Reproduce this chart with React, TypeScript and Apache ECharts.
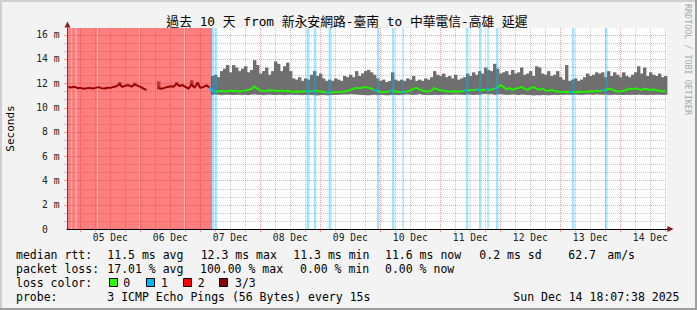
import { useEffect, useRef } from "react";
import * as echarts from "echarts";

// time axis: hours since 2025-12-04 00:00
const START_H = 18.68;
const SPAN_H = 240;
const SAMPLE_H = 1.2;
const Y_MAX = 16.55;

const xLabelHours = [36, 60, 84, 108, 132, 156, 180, 204, 228, 252];
const xTickLabels = ["05 Dec", "06 Dec", "07 Dec", "08 Dec", "09 Dec", "10 Dec", "11 Dec", "12 Dec", "13 Dec", "14 Dec"];
const yLabelValues = [0, 2, 4, 6, 8, 10, 12, 14, 16];
const yTickLabels = ["0\u00a0\u00a0", "2 m", "4 m", "6 m", "8 m", "10 m", "12 m", "14 m", "16 m"];

// median rtt (ms), one value per 1.2 h sample
const medianRed = [
  11.70, 11.65, 11.72, 11.60, 11.62, 11.55, 11.58, 11.62, 11.57, 11.62,
  11.68, 11.60, 11.57, 11.63, 11.62, 11.70, 11.75, 11.92, 11.70, 11.80,
  11.85, 11.72, 11.90, 11.80, 11.70, 11.55, 11.45, null, null, null,
  11.60, 11.55, 11.62, 11.70, 11.75, 11.72, 11.95, 11.78, 11.85, 11.70,
  11.55, 11.90, 11.65, 12.00, 11.62, 11.70, 11.82, 11.65,
];
const medianGrey = [
  11.35, 11.33, 11.35, 11.38, 11.33, 11.36, 11.40, 11.35, 11.38, 11.33,
  11.36, 11.40, 11.45, 11.55, 11.75, 11.55, 11.40, 11.36, 11.38, 11.42,
  11.40, 11.38, 11.36, 11.40, 11.35, 11.38, 11.33, 11.30, 11.32, 11.30,
  11.33, 11.35, 11.32, 11.34, 11.40, 11.36, 11.33, 11.28, 11.25, 11.24,
  11.25, 11.27, 11.28, 11.30, 11.33, 11.38, 11.45, 11.55, 11.62, 11.58,
  11.65, 11.70, 11.62, 11.55, 11.45, 11.35, 11.30, 11.28, 11.30, 11.35,
  11.40, 11.33, 11.30, 11.28, 11.30, 11.33, 11.40, 11.55, 11.62, 11.50,
  11.40, 11.35, 11.33, 11.40, 11.60, 11.50, 11.42, 11.38, 11.35, 11.33,
  11.33, 11.35, 11.32, 11.33, 11.38, 11.40, 11.43, 11.45, 11.48, 11.45,
  11.42, 11.50, 11.45, 11.48, 11.55, 11.65, 11.85, 11.70, 11.50, 11.60,
  11.45, 11.55, 11.60, 11.70, 11.55, 11.45, 11.60, 11.68, 11.55, 11.45,
  11.55, 11.40, 11.38, 11.45, 11.38, 11.33, 11.30, 11.28, 11.30, 11.28,
  11.27, 11.28, 11.30, 11.28, 11.30, 11.33, 11.35, 11.33, 11.38, 11.35,
  11.40, 11.45, 11.55, 11.50, 11.40, 11.35, 11.33, 11.38, 11.45, 11.55,
  11.50, 11.58, 11.52, 11.45, 11.55, 11.50, 11.45, 11.48, 11.42, 11.38,
  11.35, 11.36,
];
// smoke (min / max of the pings), ms
const smokeMaxRed = [
  null, null, null, null, null, null, null, null, null, null,
  null, null, null, null, null, null, null, 12.10, null, null,
  null, null, 12.05, null, null, null, null, null, null, null,
  12.15, null, null, null, null, null, 12.10, null, null, null,
  null, 12.25, null, 12.10, null, null, null, null,
];
const smokeMinRed = [
  null, null, null, null, null, null, null, null, null, null,
  null, null, null, null, null, null, null, 11.80, null, null,
  null, null, 11.80, null, null, null, null, null, null, null,
  11.50, null, null, null, null, null, 11.85, null, null, null,
  null, 11.80, null, 11.90, null, null, null, null,
];
const smokeMaxGrey = [
  12.6, 12.7, 12.5, 13.0, 13.2, 13.5, 12.9, 13.5, 13.3, 13.0,
  13.2, 13.4, 12.9, 13.1, 13.9, 13.5, 12.8, 13.0, 13.3, 12.7,
  13.0, 13.8, 13.6, 13.0, 13.4, 13.7, 13.0, 12.4, 12.3, 12.5,
  12.2, 12.4, 12.3, 12.7, 13.0, 12.6, 12.8, 12.4, 12.2, 12.3,
  12.2, 12.4, 12.3, 12.2, 12.6, 12.5, 12.7, 12.5, 13.0, 12.6,
  12.8, 13.0, 13.1, 12.9, 12.7, 12.4, 12.2, 12.3, 12.1, 12.2,
  12.9, 12.3, 12.2, 12.3, 12.2, 12.4, 12.3, 12.6, 12.2, 12.3,
  12.2, 12.4, 12.3, 12.5, 13.0, 12.7, 12.6, 12.8, 12.5, 12.6,
  12.4, 12.7, 12.3, 12.4, 12.5, 12.8, 12.6, 12.9, 12.7, 13.0,
  12.8, 13.3, 13.1, 13.0, 13.6, 13.2, 12.8, 12.9, 13.0, 12.7,
  13.1, 12.8, 12.9, 13.3, 12.7, 12.8, 13.0, 12.6, 13.4, 13.3,
  12.8, 12.7, 13.0, 12.6, 12.7, 13.0, 12.5, 12.3, 13.5, 12.2,
  12.3, 12.4, 12.2, 12.3, 12.5, 12.8, 12.6, 12.7, 12.9, 12.8,
  12.9, 12.5, 13.0, 12.6, 12.9, 12.7, 12.5, 12.9, 12.6, 12.5,
  12.7, 12.9, 13.4, 12.8, 13.3, 12.6, 12.9, 12.7, 12.6, 12.8,
  12.5, 12.6,
];
const smokeMinGrey = [
  11.05, 11.08, 11.05, 11.02, 11.05, 11.06, 11.04, 11.03, 11.05, 11.06,
  11.04, 11.05, 11.03, 11.06, 11.08, 11.05, 11.04, 11.02, 11.05, 11.06,
  11.04, 11.03, 11.05, 11.04, 11.02, 11.05, 11.06, 11.04, 11.05, 11.03,
  11.02, 11.04, 11.05, 11.03, 11.02, 11.00, 11.02, 11.03, 11.01, 11.02,
  11.03, 11.04, 11.05, 11.06, 11.08, 11.07, 11.10, 11.08, 11.06, 11.05,
  11.03, 11.02, 11.01, 11.03, 11.05, 11.02, 11.04, 11.03, 11.01, 11.02,
  11.04, 11.03, 11.02, 11.05, 11.06, 11.08, 11.05, 11.04, 11.06, 11.10,
  11.05, 11.03, 11.04, 11.03, 11.05, 11.04, 11.03, 11.05, 11.06, 11.04,
  11.05, 11.07, 11.06, 11.05, 11.04, 11.08, 11.05, 11.03, 11.06, 11.04,
  11.10, 11.12, 11.08, 11.10, 11.05, 11.08, 11.10, 11.06, 11.04, 11.05,
  11.08, 11.05, 11.03, 11.06, 11.05, 11.03, 11.02, 11.00, 11.02, 11.01,
  11.03, 11.02, 11.01, 11.03, 11.04, 11.03, 11.05, 11.04, 11.06, 11.05,
  11.04, 11.06, 11.05, 11.03, 11.05, 11.07, 11.06, 11.05, 11.08, 11.06,
  11.05, 11.07, 11.05, 11.04, 11.06, 11.05, 11.04, 11.03, 11.05, 11.04,
  11.05, 11.04, 11.06, 11.05, 11.04, 11.03, 11.05, 11.04, 11.06, 11.05,
  11.04, 11.05,
];
// loss periods [startHour, endHour]
const loss2Ranges = [
  [18.68, 20.28], [20.68, 22.08], [22.48, 30.68], [31.0, 47.48], [47.8, 65.48], [65.8, 76.68],
];
const lossPartialRanges = [
  [20.28, 20.68], [22.08, 22.48], [30.68, 31.0], [47.48, 47.8], [65.48, 65.8],
];
const loss1Ranges = [
  [76.68, 77.68], [78.08, 78.68], [114.48, 115.68], [117.4, 118.4], [123.28, 124.48],
  [142.68, 143.68], [148.68, 149.68], [152.8, 153.4], [178.28, 179.28], [183.48, 184.48],
  [186.8, 187.4], [190.28, 191.28], [220.68, 221.68], [233.88, 234.88],
];

const TITLE = "過去 10 天 from 新永安網路-臺南 to 中華電信-高雄 延遲";
const statRows: [string, number][][] = [
  [["median rtt:", 16], ["11.5 ms avg", 107.3], ["12.3 ms max", 200.7], ["11.3 ms min", 293.3], ["11.6 ms now", 385], ["0.2 ms sd", 479.3], ["62.7", 568.3], ["am/s", 607.3]],
  [["packet loss:", 16], ["17.01 % avg", 107.3], ["100.00 % max", 200], ["0.00 % min", 300], ["0.00 % now", 385]],
  [["loss color:", 16], ["0", 123.3], ["1", 161], ["2", 197.7], ["3/3", 235]],
  [["probe:", 16], ["3 ICMP Echo Pings (56 Bytes) every 15s", 107.3], ["Sun Dec 14 18:07:38 2025", 513.3]],
];
const rowY = [254.5, 268.5, 282.5, 296.5];
const legendColors = ["#26ff00", "#00b8ff", "#ff0000", "#8b0000"];
const legendBoxX = [109, 146, 183, 219];

const MONO = '"DejaVu Sans Mono", "Noto Sans CJK TC", monospace';
const LOSS_FILL: Record<number, string> = { 1: "rgba(0,184,255,0.36)", 2: "rgba(255,0,0,0.5)", 3: "rgba(255,0,0,0.3)" };
const MEDIAN_COLOR: Record<number, string> = { 0: "#22f000", 1: "#00b8ff", 2: "#990000" };

function buildOption() {
  const median = [...medianRed, ...medianGrey];
  const sMax = [...smokeMaxRed, ...smokeMaxGrey];
  const sMin = [...smokeMinRed, ...smokeMinGrey];
  const n = median.length;
  const tStart = (i: number) => START_H + SAMPLE_H * i;

  const overlap = (a0: number, a1: number, ranges: number[][]) =>
    ranges.reduce((s, r) => s + Math.max(0, Math.min(a1, r[1]) - Math.max(a0, r[0])), 0);
  const levelOf = (i: number) => {
    const a0 = tStart(i), a1 = tStart(i + 1);
    if (overlap(a0, a1, loss2Ranges) > SAMPLE_H / 2) return 2;
    if (overlap(a0, a1, loss1Ranges) > 0.3) return 1;
    return 0;
  };

  // grid lines: [kind(0=vertical,1=horizontal), value, major]
  const gridData: number[][] = [];
  for (let h = Math.ceil(START_H / 6) * 6; h < START_H + SPAN_H; h += 6) gridData.push([0, h, h % 24 === 0 ? 1 : 0]);
  for (let k = 1; (k * 2) / 3 <= Y_MAX; k++) gridData.push([1, (k * 2) / 3, k % 3 === 0 ? 1 : 0]);

  const lossData = [
    ...loss2Ranges.map((r) => [r[0], r[1], 2]),
    ...lossPartialRanges.map((r) => [r[0], r[1], 3]),
    ...loss1Ranges.map((r) => [r[0], r[1], 1]),
  ];

  const smokeData: number[][] = [];
  for (let i = 0; i < n; i++) {
    const hi = sMax[i], lo = sMin[i];
    if (hi != null && lo != null) smokeData.push([tStart(i), lo, tStart(i + 1), hi]);
  }

  // median runs of same colour
  const runs: { color: string; pts: number[][] }[] = [];
  let cur: { color: string; pts: number[][] } | null = null;
  let prev: number[] | null = null;
  for (let i = 0; i < n; i++) {
    const v = median[i];
    if (v == null) { cur = null; prev = null; continue; }
    const p = [tStart(i) + SAMPLE_H / 2, v];
    const color = MEDIAN_COLOR[levelOf(i)];
    if (!cur || cur.color !== color) {
      cur = { color, pts: prev ? [prev] : [] };
      runs.push(cur);
    }
    cur.pts.push(p);
    prev = p;
  }

  const graphic: any[] = [
    { type: "rect", shape: { x: 0, y: 0, width: 697, height: 2 }, style: { fill: "#cfcfcf" }, silent: true },
    { type: "rect", shape: { x: 0, y: 0, width: 2, height: 310 }, style: { fill: "#cfcfcf" }, silent: true },
    { type: "rect", shape: { x: 695, y: 0, width: 2, height: 310 }, style: { fill: "#9e9e9e" }, silent: true },
    { type: "rect", shape: { x: 0, y: 308, width: 697, height: 2 }, style: { fill: "#9e9e9e" }, silent: true },
    { type: "text", x: 347, y: 21.5, style: { text: TITLE, fontFamily: MONO, fontSize: 12.8, fill: "#000", align: "center", verticalAlign: "middle" } },
    { type: "text", x: 688, y: 4, rotation: -Math.PI / 2, style: { text: "RRDTOOL / TOBI OETIKER", fontFamily: MONO, fontSize: 8.4, fill: "#a8a8a8", align: "left", verticalAlign: "middle" } },
    { type: "text", x: 10, y: 128.5, rotation: Math.PI / 2, style: { text: "Seconds", fontFamily: MONO, fontSize: 11, fill: "#000", align: "center", verticalAlign: "middle" } },
    { type: "polygon", shape: { points: [[67.5, 21.5], [64.5, 27.5], [70.5, 27.5]] }, style: { fill: "#8b1a1a" }, silent: true },
    { type: "polygon", shape: { points: [[673.5, 229], [667.5, 226], [667.5, 232]] }, style: { fill: "#8b1a1a" }, silent: true },
    { type: "line", shape: { x1: 667, y1: 229, x2: 668, y2: 229 }, style: { stroke: "#000", lineWidth: 1 }, silent: true },
  ];
  statRows.forEach((row, r) =>
    row.forEach(([text, x]) =>
      graphic.push({ type: "text", x, y: rowY[r], style: { text, fontFamily: MONO, fontSize: 11.5, fill: "#000", align: "left", verticalAlign: "middle" } })
    )
  );
  legendBoxX.forEach((x, k) =>
    graphic.push({ type: "rect", shape: { x: x + 0.5, y: 278.5, width: 8, height: 8 }, style: { fill: legendColors[k], stroke: "#000", lineWidth: 1 }, silent: true })
  );

  return {
    animation: false,
    backgroundColor: "#f3f3f3",
    grid: { left: 67, top: 28, width: 600, height: 201, show: true, backgroundColor: "#ffffff", borderWidth: 0 },
    xAxis: {
      type: "value",
      min: START_H,
      max: START_H + SPAN_H,
      axisLine: { show: true, lineStyle: { color: "#000", width: 1 } },
      axisTick: { show: false },
      splitLine: { show: false },
      axisLabel: {
        customValues: xLabelHours,
        formatter: (v: number) => xTickLabels[xLabelHours.indexOf(Math.round(v))] ?? "",
        margin: 4,
        fontFamily: MONO,
        fontSize: 9.7,
        color: "#222",
      },
    },
    yAxis: {
      type: "value",
      min: 0,
      max: Y_MAX,
      axisLine: { show: true, lineStyle: { color: "#444", width: 1 } },
      axisTick: { show: false },
      splitLine: { show: false },
      axisLabel: {
        customValues: yLabelValues,
        formatter: (v: number) => yTickLabels[yLabelValues.indexOf(Math.round(v))] ?? "",
        margin: 7.5,
        fontFamily: MONO,
        fontSize: 9.7,
        color: "#222",
      },
    },
    graphic,
    series: [
      {
        type: "custom",
        z: 1,
        silent: true,
        data: gridData,
        encode: { x: 1, y: 1 },
        renderItem: (_p: any, api: any) => {
          const kind = api.value(0), v = api.value(1), major = api.value(2);
          const color = major ? "rgba(255,40,40,0.45)" : "rgba(120,120,120,0.4)";
          if (kind === 0) {
            const a = api.coord([v, 0]), b = api.coord([v, Y_MAX]);
            const x = Math.round(a[0]) + 0.5;
            return {
              type: "group",
              children: [
                { type: "line", shape: { x1: x, y1: a[1], x2: x, y2: b[1] }, style: { stroke: color, lineWidth: 1, lineDash: [1, 1] } },
                { type: "line", shape: { x1: x, y1: a[1], x2: x, y2: a[1] + 3 }, style: { stroke: color, lineWidth: 1 } },
              ],
            };
          }
          const a = api.coord([START_H, v]), b = api.coord([START_H + SPAN_H, v]);
          const y = Math.round(a[1]) + 0.5;
          return {
            type: "group",
            children: [
              { type: "line", shape: { x1: a[0], y1: y, x2: b[0], y2: y }, style: { stroke: color, lineWidth: 1, lineDash: [1, 1] } },
              { type: "line", shape: { x1: a[0] - 3, y1: y, x2: a[0], y2: y }, style: { stroke: color, lineWidth: 1 } },
            ],
          };
        },
      },
      {
        type: "custom",
        z: 2,
        silent: true,
        data: smokeData,
        encode: { x: [0, 2], y: [1, 3] },
        renderItem: (_p: any, api: any) => {
          const a = api.coord([api.value(0), api.value(3)]);
          const b = api.coord([api.value(2), api.value(1)]);
          return { type: "rect", shape: { x: a[0], y: a[1], width: b[0] - a[0] + 0.4, height: Math.max(1, b[1] - a[1]) }, style: { fill: "#6f6f6f" } };
        },
      },
      {
        type: "custom",
        z: 3,
        silent: true,
        data: lossData,
        encode: { x: [0, 1] },
        renderItem: (_p: any, api: any) => {
          const a = api.coord([api.value(0), Y_MAX]);
          const b = api.coord([api.value(1), 0]);
          return { type: "rect", shape: { x: a[0], y: a[1], width: b[0] - a[0], height: b[1] - a[1] }, style: { fill: LOSS_FILL[api.value(2)] } };
        },
      },
      {
        type: "custom",
        z: 4,
        silent: true,
        data: runs.map((_, idx) => [idx]),
        encode: { x: 0 },
        renderItem: (_p: any, api: any) => {
          const run = runs[api.value(0)];
          return {
            type: "polyline",
            shape: { points: run.pts.map((q) => api.coord(q)) },
            style: { stroke: run.color, lineWidth: 2, fill: "none", lineJoin: "round" },
          };
        },
      },
    ],
  };
}

export default function App() {
  const ref = useRef<HTMLDivElement>(null);
  useEffect(() => {
    const chart = echarts.init(ref.current!, null, { renderer: "svg" });
    chart.setOption(buildOption() as any);
    return () => chart.dispose();
  }, []);
  return <div ref={ref} style={{ position: "fixed", left: 0, top: 0, width: 697, height: 310 }} />;
}
